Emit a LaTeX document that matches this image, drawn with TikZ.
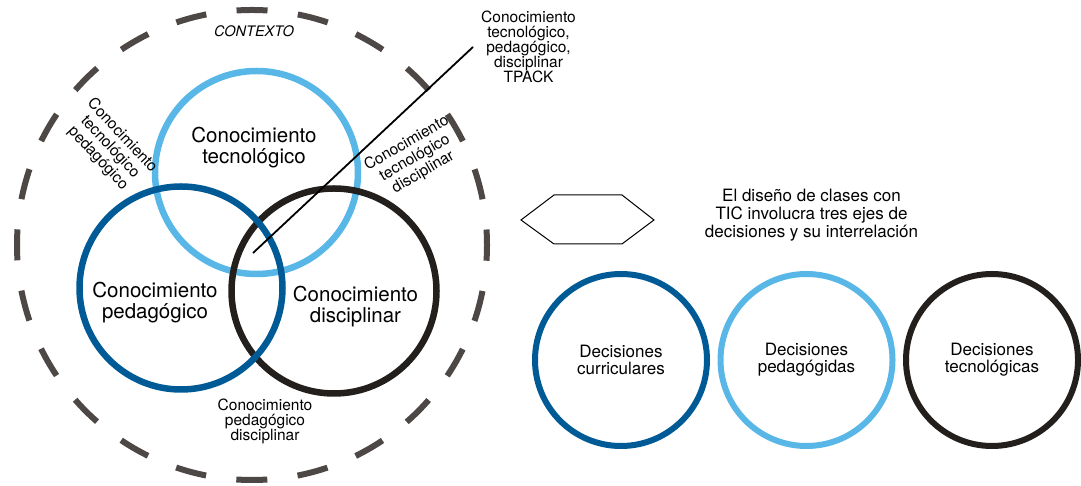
\documentclass[tikz,border=0pt]{standalone}
\usepackage{fontspec}
\setmainfont{TeX Gyre Heros}
\usepackage{xcolor}
\usepackage{tikz}
\usetikzlibrary{positioning}

\definecolor{lightblue}{HTML}{58B7E6}
\definecolor{darkblue}{HTML}{005A96}
\definecolor{nearblack}{HTML}{231F1C}
\definecolor{dashgray}{HTML}{4D4846}

\begin{document}
\begin{tikzpicture}[
    x=1pt, y=1pt,
    node distance=13.5pt,
    venn/.style={circle, draw=#1, line width=6.5pt, minimum size=203pt, inner sep=0pt, outer sep=0pt},
    decision/.style={circle, draw=#1, line width=6pt, minimum size=172pt, inner sep=0pt, outer sep=0pt, align=center, font=\fontsize{17}{17}\selectfont},
    bigtext/.style={align=center, font=\fontsize{20.5}{21}\selectfont},
    smalltext/.style={align=center, font=\fontsize{15.5}{15}\selectfont, inner sep=1pt},
    slanted/.style={align=center, font=\fontsize{15.5}{16.5}\selectfont, inner sep=1pt},
    contextring/.style={circle, draw=dashgray, line width=6pt, minimum size=470pt, inner sep=0pt, dash pattern=on 31pt off 30.52pt, dash phase=15.5pt},
    pointer/.style={-, line width=1.8pt, black}
]
    \useasboundingbox (0,0) rectangle (1081,486);

    % Context
    \node[contextring] (contexto) at (252,241) {};
    \node[font=\fontsize{14.5}{15}\selectfont\itshape] (contextotxt) at (254,455) {CONTEXTO};

    % Knowledge circles
    \node[venn=lightblue] (tec) at (256.5,313.5) {};
    \node[venn=nearblack, minimum size=205pt] (dis) at (334,195) {};
    \node[venn=darkblue] (ped) at (181,198) {};

    % Labels
    \node[bigtext] (tectxt) at (254,338) {Conocimiento\\tecnológico};
    \node[bigtext] (pedtxt) at (155,183) {Conocimiento\\pedagógico};
    \node[bigtext] (distxt) at (355.5,179) {Conocimiento\\disciplinar};
    \node[slanted, rotate=-47] (tecped) at (110,339) {Conocimiento\\tecnológico\\pedagógico};
    \node[slanted, rotate=30] (tecdis) at (415,328) {Conocimiento\\tecnológico\\disciplinar};
    \node[smalltext] (peddis) at (265,65) {Conocimiento\\pedagógico\\disciplinar};

    % TPACK
    \coordinate (tpackpt) at (253,233);
    \node[smalltext, inner sep=8pt] (tpack) at (528.5,439) {Conocimiento\\tecnológico,\\pedagógico,\\disciplinar\\TPACK};
    \draw[pointer] (tpackpt) -- (tpack.west);

    % Hexagon
    \draw[line width=1pt] (521,266) -- (554,291) -- (622,291) -- (654,266) -- (622,242) -- (554,242) -- cycle;

    % Decisions
    \node[align=center, font=\fontsize{17}{18}\selectfont] (intro) at (811.5,271) {El diseño de clases con\\TIC involucra tres ejes de\\decisiones y su interrelación};
    \node[decision=darkblue] (curr) at (621,126) {Decisiones\\curriculares};
    \node[decision=lightblue, right=of curr] (pedg) {Decisiones\\pedagógidas};
    \node[decision=nearblack, right=of pedg] (tecn) {Decisiones\\tecnológicas};

\end{tikzpicture}
\end{document}
